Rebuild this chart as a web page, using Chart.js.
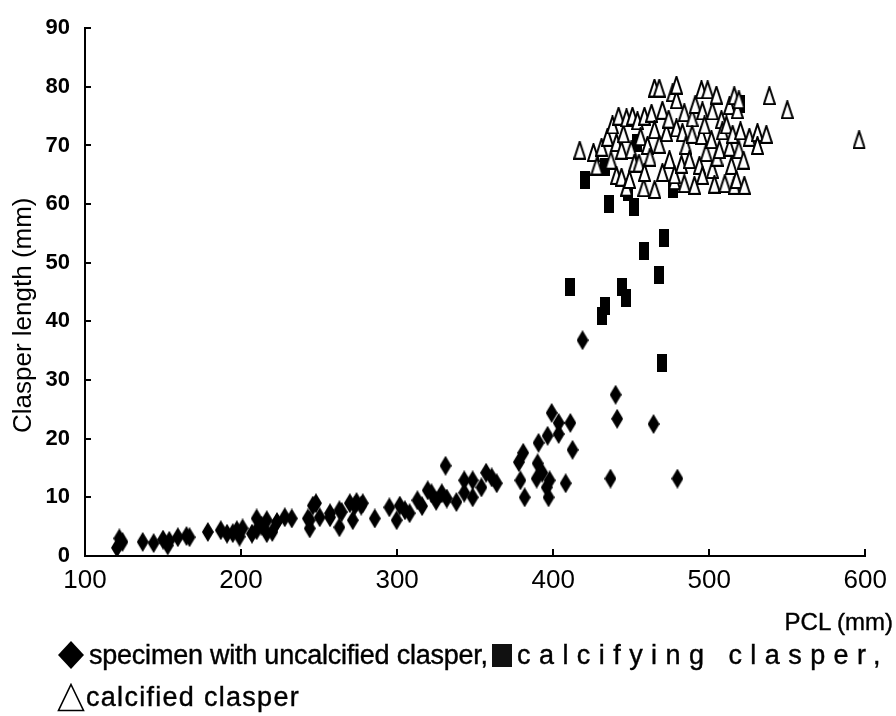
<!DOCTYPE html>
<html>
<head>
<meta charset="utf-8">
<script src="https://cdn.jsdelivr.net/npm/chart.js@4.4.1/dist/chart.umd.min.js"></script>
<style>
  body { margin: 0; background: #fff; }
  #wrap { position: relative; width: 896px; height: 716px; font-family: "Liberation Sans", Arial, sans-serif; color: #000; }
  #chart { position: absolute; left: 0; top: 0; }
  .txt { position: absolute; white-space: nowrap; line-height: 30px; -webkit-text-stroke: 0.4px #000; }
  .mk { position: absolute; }
  #ytitle { position: absolute; white-space: nowrap; font-size: 26px; line-height: 30px;
            transform-origin: 0 0; transform: rotate(-90deg); }
</style>
</head>
<body>
<div id="wrap">
  <canvas id="chart" width="896" height="716"></canvas>
  <div id="ytitle">Clasper length (mm)</div>
  <div class="txt" id="pcl" style="top:607px; font-size:24px;">PCL (mm)</div>

  <svg class="mk" style="left:57px; top:641px;" width="28" height="28" viewBox="0 0 28 28"><polygon points="14,0 27,14 14,28 1,14" fill="#000"/></svg>
  <div class="txt" id="leg1" style="left:89px; top:640px; font-size:27px;">specimen with uncalcified clasper,</div>
  <svg class="mk" style="left:492px; top:644px;" width="20" height="23" viewBox="0 0 20 23"><rect x="0" y="0" width="20" height="23" fill="#111"/></svg>
  <div class="txt" id="leg2" style="left:517px; top:640px; font-size:27px;">calcifying clasper,</div>

  <svg class="mk" style="left:57px; top:683px;" width="28" height="29" viewBox="0 0 28 29"><polygon points="14,1.5 26.5,27.5 1.5,27.5" fill="#fff" stroke="#000" stroke-width="1.6"/></svg>
  <div class="txt" id="leg3" style="left:86px; top:682px; font-size:27px;">calcified clasper</div>
</div>
<script>
// PCL (mm) vs clasper length (mm)
const uncalcified = [
  [120.5, 1.4], [124, 2.4], [122, 3], [137, 2.4], [144, 2.2], [150, 2.8], [153, 1.8], [154, 2.6],
  [159.5, 3.2], [165, 3.4], [167, 3.2], [178.7, 4.1], [187, 4.4], [191, 3.8], [194.7, 3.9],
  [197.3, 4.4], [199, 3.3], [201, 4.7], [207, 3.8], [210, 6.4], [210, 4.4], [213, 5.2],
  [216.5, 6.1], [216.5, 3.9], [220, 4.1], [223, 5.8], [228, 6.6], [232.5, 6.4],
  [242.8, 6.4], [244, 4.7], [244, 6.1], [246, 8.6], [248, 9], [250.4, 6.6], [257, 6.6],
  [257, 7.3], [263, 7.8], [263, 4.9], [264.5, 7.5], [269.7, 9], [271.6, 6.1], [272.9, 8.6],
  [274, 9.2], [277, 8.6], [278, 9], [285.7, 6.4], [295, 8.3], [299.7, 6.1], [301.7, 8.6],
  [305, 7.8], [308, 7.3], [313, 9.5], [316, 8.5], [319.6, 11.2], [322, 10.7], [325, 9.4],
  [328.6, 10.7], [331, 15.4], [331.8, 9.8], [338, 9.2], [343, 12.9], [343, 10.8], [348.4, 12.9],
  [348.4, 10], [354, 11.7], [357, 14.2], [360.6, 13.4], [363.8, 12.4],
  [378, 16], [380.8, 17.6], [379, 12.9], [381.7, 10], [389.4, 13.2], [390, 15.8], [390.6, 19.3],
  [393, 14.2], [395.8, 11.7], [396.4, 20.5], [397, 10], [397.7, 12.9], [399, 24.4], [403.5, 22.7],
  [403.5, 20.8], [408, 12.4], [411, 22.7], [412.4, 18.1],
  [418.8, 36.8], [436.7, 13.2], [440, 27.5], [441, 23.4], [464.3, 22.5], [479.6, 13.2]
];

const calcifying = [
  [410.5, 45.9], [420.7, 64.1], [431, 41], [433.5, 42.7], [433.5, 66.3], [435.5, 60],
  [444.4, 45.9], [446.4, 44], [448, 62], [452, 59.5], [453.5, 70.5], [458, 52], [467.5, 48],
  [470, 32.9], [470.7, 54.2], [477, 62.5], [520, 77]
];

const calcified = [
  [417, 69.2], [425.8, 68.8], [428, 66.5], [431, 69.7], [434.8, 71.4], [437, 67.5], [438, 73.5],
  [440.6, 70.5], [441.9, 75], [443.8, 69.2], [440.6, 64.9], [443.8, 64.6], [445, 72], [447, 74.7],
  [447, 62.9], [448.9, 64.2], [450, 69.3], [450.8, 75], [452, 67], [454, 74.2], [455, 67],
  [456, 71.5], [458, 62.8], [458.5, 75], [458.5, 65.4], [460.4, 70], [462, 68], [463, 75.5],
  [464.9, 79.8], [464.9, 72.7], [465, 62.5], [468, 79.8], [468, 70.2], [470, 65.4], [470, 76],
  [472.6, 72.2], [474, 74.5], [474.5, 67.6], [476.6, 79], [477.7, 64], [477.7, 65], [479, 77.8],
  [479, 80.3], [479, 73], [482.2, 66.8], [482.8, 72.2], [484, 75.6], [484, 63.5], [485, 70],
  [487.3, 67.6], [489, 74.7], [489, 71.9], [490.5, 63.2], [491, 77], [493.7, 66.6], [495, 79.5],
  [495, 71.7], [495.6, 75.9], [495.6, 64.9], [497, 73.5], [498, 68.8], [499, 79.5], [501.4, 71],
  [502, 75.9], [502, 65.9], [503.3, 63.4], [504.6, 78.6], [505, 68], [506.5, 69.3], [507.8, 74.4],
  [508.4, 72.5], [510, 63.5], [511, 73.5], [513, 76.8], [513, 69.7], [514.2, 66.6], [515, 71.9],
  [516, 78.5], [516, 63.2], [517.4, 64.2], [518, 76.1], [519, 77.8], [519, 69.3], [520, 72.5],
  [522, 67.5], [522.5, 63.2], [525.7, 71.4], [530.9, 72.2], [530.9, 70], [536.6, 71.9],
  [538.5, 78.5], [550, 76.1], [596, 71]
];

const xTicks = [100, 200, 300, 400, 500, 600];
const yTicks = [0, 10, 20, 30, 40, 50, 60, 70, 80, 90];

// stretch the legend pieces to the widths they take in the original
function spreadTo(id, width) {
  const el = document.getElementById(id);
  const n = el.textContent.length;
  const extra = width - el.getBoundingClientRect().width;
  el.style.letterSpacing = (extra / n).toFixed(2) + 'px';
}
spreadTo('leg1', 399);
spreadTo('leg2', 372);
spreadTo('leg3', 214);

const pcl = document.getElementById('pcl');
pcl.style.left = (893 - pcl.getBoundingClientRect().width) + 'px';

// rotated y title, centred on x=22, running from y~190 to y~440
const yt = document.getElementById('ytitle');
const ytW = yt.offsetWidth;
yt.style.left = (22 - 15) + 'px';
yt.style.top = (315 + ytW / 2) + 'px';

function marker(w, h, draw) {
  const c = document.createElement('canvas');
  c.width = w;
  c.height = h;
  draw(c.getContext('2d'), w, h);
  return c;
}

const diamond = marker(12, 20, (ctx, w, h) => {
  ctx.fillStyle = '#000';
  ctx.beginPath();
  ctx.moveTo(w / 2, 0); ctx.lineTo(w, h / 2); ctx.lineTo(w / 2, h); ctx.lineTo(0, h / 2);
  ctx.closePath();
  ctx.fill();
});

const square = marker(10, 18, (ctx, w, h) => {
  ctx.fillStyle = '#000';
  ctx.fillRect(0, 0, w, h);
});

const triangle = marker(13, 19, (ctx, w, h) => {
  ctx.fillStyle = '#fff';
  ctx.strokeStyle = '#000';
  ctx.lineWidth = 2;
  ctx.lineJoin = 'miter';
  ctx.beginPath();
  ctx.moveTo(w / 2, 1); ctx.lineTo(w - 1, h - 1); ctx.lineTo(1, h - 1);
  ctx.closePath();
  ctx.fill();
  ctx.stroke();
});

const toPoints = arr => arr.map(([x, y]) => ({ x, y }));

// small tick marks pointing into the plot, like the original
const innerTicks = {
  id: 'innerTicks',
  afterDatasetsDraw(chart) {
    const { ctx, scales: { x, y } } = chart;
    ctx.save();
    ctx.strokeStyle = '#000';
    ctx.lineWidth = 2;
    ctx.beginPath();
    yTicks.slice(1).forEach(v => {
      const py = Math.round(y.getPixelForValue(v));
      ctx.moveTo(x.left, py);
      ctx.lineTo(x.left + 6, py);
    });
    xTicks.slice(1).forEach(v => {
      const px = Math.round(x.getPixelForValue(v));
      ctx.moveTo(px, y.bottom);
      ctx.lineTo(px, y.bottom - 7);
    });
    ctx.stroke();
    ctx.restore();
  }
};

new Chart(document.getElementById('chart').getContext('2d'), {
  type: 'scatter',
  data: {
    datasets: [
      { label: 'calcified clasper', data: toPoints(calcified), pointStyle: triangle, order: 0 },
      { label: 'calcifying clasper', data: toPoints(calcifying), pointStyle: square, order: 1 },
      { label: 'specimen with uncalcified clasper', data: toPoints(uncalcified), pointStyle: diamond, order: 2 }
    ]
  },
  options: {
    responsive: false,
    animation: false,
    layout: { padding: { left: 0, right: 30, top: 20, bottom: 80 } },
    plugins: { legend: { display: false }, tooltip: { enabled: false } },
    scales: {
      x: {
        type: 'linear',
        min: 100,
        max: 600,
        afterBuildTicks: s => { s.ticks = xTicks.map(v => ({ value: v })); },
        afterFit: s => { s.height = 80; },
        grid: { display: false, drawTicks: false },
        border: { display: true, color: '#000', width: 2 },
        ticks: { color: '#000', padding: 9, font: { family: 'Liberation Sans', size: 26 } }
      },
      y: {
        min: 0,
        max: 90,
        afterBuildTicks: s => { s.ticks = yTicks.map(v => ({ value: v })); },
        afterFit: s => { s.width = 85; },
        grid: { display: false, drawTicks: false },
        border: { display: true, color: '#000', width: 2 },
        ticks: { color: '#000', padding: 15, font: { family: 'Liberation Sans', size: 22, weight: 'bold' } }
      }
    }
  },
  plugins: [innerTicks]
});
</script>
</body>
</html>
